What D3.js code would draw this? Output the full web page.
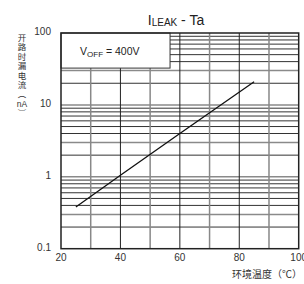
<!DOCTYPE html>
<html>
<head>
<meta charset="utf-8">
<script src="https://cdn.jsdelivr.net/npm/d3@7"></script>
<style>
    body { margin: 0; background: #fff; }
    svg { display: block; font-family: "Liberation Sans", Arial, sans-serif; }
    .cjk { font-family: "Noto Sans CJK SC", sans-serif; }
</style>
</head>
<body>
<div id="chart"></div>
<script>
// values
const tempC = [25, 40, 60, 85];
const leakNA = [0.38, 1.05, 4.0, 21];
const xTicks = [20, 40, 60, 80, 100];
const yTicks = [0.1, 1, 10, 100];
const yTickLabels = ["0.1", "1", "10", "100"];
const xGrid = [30, 40, 50, 60, 70, 80, 90];
const yLabelChars = ["开", "路", "时", "漏", "电", "流", "\uFE35", "nA", "\uFE36"];
const xTitle = "环境温度（℃）";

const W = 304, H = 284;
const m = { top: 33, right: 5.3, bottom: 35.3, left: 61 };

const svg = d3.select("#chart").append("svg")
    .attr("width", W).attr("height", H);

const x = d3.scaleLinear().domain([20, 100]).range([m.left, W - m.right]);
const y = d3.scaleLog().domain([0.1, 100]).range([H - m.bottom, m.top]);

// leading digit of a log tick: 1..9
const lead = d => Math.round(d / Math.pow(10, Math.floor(Math.log10(d) + 1e-9)));

// horizontal grid (log minor lines)
const yGrid = y.ticks().filter(v => v > 0.1 && v < 100);
svg.append("g").selectAll("line")
    .data(yGrid)
    .join("line")
    .attr("x1", x(20)).attr("x2", x(100))
    .attr("y1", d => y(d)).attr("y2", d => y(d))
    .attr("stroke", d => (lead(d) === 1 || lead(d) === 3) ? "#8a8a8a" : "#333")
    .attr("stroke-width", d => (lead(d) === 1 || lead(d) === 3) ? 1.5 : 1);

// vertical grid
svg.append("g").selectAll("line")
    .data(xGrid)
    .join("line")
    .attr("x1", d => x(d)).attr("x2", d => x(d))
    .attr("y1", y(0.1)).attr("y2", y(100))
    .attr("stroke", d => d % 20 === 0 ? "#222" : "#888")
    .attr("stroke-width", d => d % 20 === 0 ? 1 : 1.5);

// legend box
svg.append("rect")
    .attr("x", x(20)).attr("y", y(100))
    .attr("width", x(56.7) - x(20)).attr("height", y(32.5) - y(100))
    .attr("fill", "#fff").attr("stroke", "#333").attr("stroke-width", 1);

const lg = svg.append("text")
    .attr("x", 80).attr("y", 54.5)
    .attr("font-size", 10.5).attr("fill", "#222");
lg.append("tspan").text("V");
lg.append("tspan").attr("font-size", 8).attr("dy", 2).text("OFF");
lg.append("tspan").attr("dy", -2).text(" = 400V");

// frame
svg.append("rect")
    .attr("x", x(20)).attr("y", y(100))
    .attr("width", x(100) - x(20)).attr("height", y(0.1) - y(100))
    .attr("fill", "none").attr("stroke", "#222").attr("stroke-width", 1.5);

// data line
const line = d3.line().x((d, i) => x(tempC[i])).y(d => y(d));
svg.append("path")
    .datum(leakNA)
    .attr("d", line)
    .attr("fill", "none").attr("stroke", "#111").attr("stroke-width", 1.3);

// tick labels
svg.append("g").selectAll("text")
    .data(yTicks)
    .join("text")
    .attr("x", m.left - 10).attr("y", d => y(d) + 2)
    .attr("text-anchor", "end")
    .attr("font-size", 10).attr("fill", "#333")
    .text((d, i) => yTickLabels[i]);

svg.append("g").selectAll("text")
    .data(xTicks)
    .join("text")
    .attr("x", d => x(d)).attr("y", 261)
    .attr("text-anchor", "middle")
    .attr("font-size", 10).attr("fill", "#333")
    .text(d => d);

// title
const t = svg.append("text")
    .attr("x", 176).attr("y", 25)
    .attr("text-anchor", "middle")
    .attr("font-size", 14).attr("fill", "#222");
t.append("tspan").text("I");
t.append("tspan").attr("font-size", 10).attr("dy", 1).text("LEAK");
t.append("tspan").attr("dy", -1).text(" - Ta");

// y axis title, one char per row
const yt = svg.append("text")
    .attr("class", "cjk")
    .attr("text-anchor", "middle")
    .attr("font-size", 8.5).attr("fill", "#333");
yt.selectAll("tspan")
    .data(yLabelChars)
    .join("tspan")
    .attr("x", 22)
    .attr("y", (d, i) => 41 + i * 9.4)
    .attr("font-family", d => d === "nA" ? "Liberation Sans, Arial, sans-serif" : null)
    .text(d => d);

// x axis title
svg.append("text")
    .attr("class", "cjk")
    .attr("x", 232).attr("y", 278)
    .attr("font-size", 10).attr("fill", "#333")
    .text(xTitle);
</script>
</body>
</html>
